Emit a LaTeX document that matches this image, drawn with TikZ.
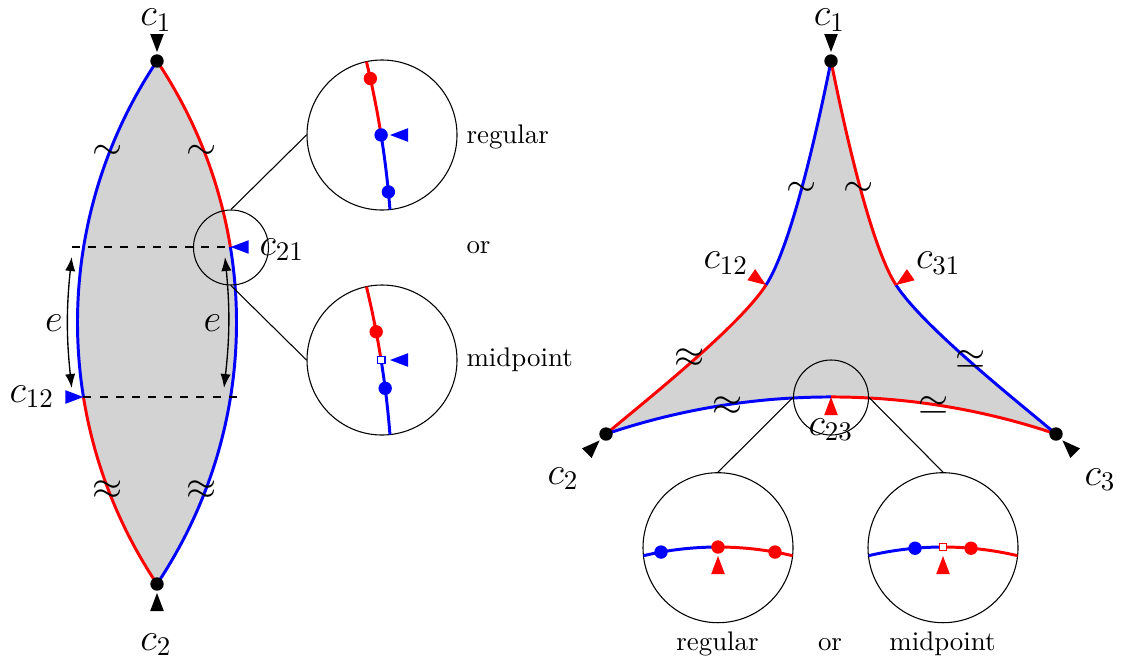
\documentclass[tikz,border=0pt]{standalone}
\usetikzlibrary{arrows.meta,calc}
\definecolor{lensgray}{HTML}{D3D3D3}
\newcommand\drawtri[3]{\fill[#1,shift={(#2)},rotate=#3] (0,0) -- (-18,6.8) -- (-18,-6.8) -- cycle;}
\begin{document}
\begin{tikzpicture}[x=0.3717pt,y=-0.3717pt,
  curve/.style={line width=1.1pt},
  lbl/.style={inner sep=0pt,font=\Large},
  txt/.style={inner sep=0pt},
  lens/.style={draw,circle,inner sep=0pt,line width=0.4pt},
  thinline/.style={line width=0.4pt},
  dashline/.style={dashed,line width=0.65pt},
  arr/.style={line width=0.5pt,{Latex[length=5.2pt,width=3.8pt]}-{Latex[length=5.2pt,width=3.8pt]}},
  sq/.style={draw=#1,fill=white,rectangle,inner sep=0pt,minimum size=2.8pt,line width=0.5pt}
]
\useasboundingbox (0,0) rectangle (1121,662);

%================ LEFT LENS =================
\coordinate (L1) at (157,61);
\coordinate (L2) at (157,584);
\coordinate (L21) at (230.7,247);
\coordinate (L12) at (83.4,397);
\fill[lensgray] (L1) .. controls (51,219.7) and (51,425.3) .. (L2) .. controls (263,425.3) and (263,219.7) .. (L1) -- cycle;
\begin{scope}
  \clip (0,0) rectangle (300,397);
  \draw[curve,blue] (L1) .. controls (51,219.7) and (51,425.3) .. (L2);
\end{scope}
\begin{scope}
  \clip (0,397) rectangle (300,662);
  \draw[curve,red] (L1) .. controls (51,219.7) and (51,425.3) .. (L2);
\end{scope}
\begin{scope}
  \clip (0,0) rectangle (300,247);
  \draw[curve,red] (L1) .. controls (263,219.7) and (263,425.3) .. (L2);
\end{scope}
\begin{scope}
  \clip (0,247) rectangle (300,662);
  \draw[curve,blue] (L1) .. controls (263,219.7) and (263,425.3) .. (L2);
\end{scope}

% dashed lines
\coordinate (DL) at (72,247);
\coordinate (DR) at (241,397);
\draw[dashline] (DL) -- (L21);
\draw[dashline] (L12) -- (DR);

% e arrows
\coordinate (ea1) at (71.7,257);
\coordinate (ea2) at (71.7,388);
\coordinate (eb1) at (225,257);
\coordinate (eb2) at (224,388);
\draw[arr] (ea1) to[bend right=6] (ea2);
\draw[arr] (eb1) to[bend left=6] (eb2);
\node[lbl,anchor=base] (e1) at (54,331) {$e$};
\node[lbl,anchor=base] (e2) at (212.5,331) {$e$};

% tildes
\node[lbl] (t1) at (107.5,152.5) {$\sim$};
\node[lbl] (t2) at (201.7,152.5) {$\sim$};
\node[lbl] (t3) at (107.5,490) {$\approx$};
\node[lbl] (t4) at (201.7,490) {$\approx$};

% dots and markers
\fill (L1) circle[radius=6.7];
\fill (L2) circle[radius=6.7];
\coordinate (m1) at (157,52);
\coordinate (m2) at (157,593);
\drawtri{black}{m1}{-90}
\drawtri{black}{m2}{90}
\drawtri{blue}{L21}{180}
\drawtri{blue}{L12}{0}

\node[lbl,anchor=base] (lc1) at (156,25.5) {$c_1$};
\node[lbl,anchor=base] (lc2) at (156,650) {$c_2$};
\node[lbl,anchor=base west] (lc21) at (259,255) {$c_{21}$};
\node[lbl,anchor=base west] (lc12) at (9,402) {$c_{12}$};

% zoom circles
\node[lens,minimum size=27.88pt] (zs) at (231,247.5) {};
\node[lens,minimum size=55.76pt] (zt) at (382,135) {};
\node[lens,minimum size=55.76pt] (zb) at (382,360) {};
\draw[thinline] (zs.north) -- (zt.west);
\draw[thinline] (zs.south) -- (zb.west);

\begin{scope}
  \clip (382,135) circle[radius=75];
  \draw[curve,red] plot[domain=-16:-9.05,samples=20] ({-561+954*cos(\x)},{285+954*sin(\x)});
  \draw[curve,blue] plot[domain=-9.05:-2,samples=20] ({-561+954*cos(\x)},{285+954*sin(\x)});
\end{scope}
\coordinate (zr1) at ($(-561,285)+(-12.5:954)$);
\coordinate (zb1) at ($(-561,285)+(-9.05:954)$);
\coordinate (zb2) at ($(-561,285)+(-5.6:954)$);
\fill[red] (zr1) circle[radius=6.7];
\fill[blue] (zb1) circle[radius=6.7];
\fill[blue] (zb2) circle[radius=6.7];
\coordinate (zm1) at (390,135);
\drawtri{blue}{zm1}{180}

\begin{scope}
  \clip (382,360) circle[radius=75];
  \draw[curve,red] plot[domain=-16:-9.05,samples=20] ({-561+954*cos(\x)},{510+954*sin(\x)});
  \draw[curve,blue] plot[domain=-9.05:-2,samples=20] ({-561+954*cos(\x)},{510+954*sin(\x)});
\end{scope}
\coordinate (zr3) at ($(-561,510)+(-10.77:954)$);
\coordinate (zq3) at ($(-561,510)+(-9.05:954)$);
\coordinate (zb3) at ($(-561,510)+(-7.33:954)$);
\fill[red] (zr3) circle[radius=6.7];
\fill[blue] (zb3) circle[radius=6.7];
\node[sq=blue] (zsq) at (zq3) {};
\coordinate (zm2) at (390,360);
\drawtri{blue}{zm2}{180}

\node[txt,anchor=base west] (reg1) at (466,143.3) {regular};
\node[txt,anchor=base west] (or1) at (466,253.3) {or};
\node[txt,anchor=base west] (mid1) at (466,366.7) {midpoint};

%================ RIGHT TRIANGLE =================
\coordinate (R1) at (831,61);
\coordinate (R12) at (766,285);
\coordinate (R31) at (896,285);
\coordinate (R2) at (606,434);
\coordinate (R3) at (1056,434);
\coordinate (R23) at (831,397);
\fill[lensgray] (R1) .. controls (821,111) and (793.25,243) .. (R12)
  .. controls (738.75,327) and (644.3,401.8) .. (R2)
  .. controls (752,384.6) and (910,384.6) .. (R3)
  .. controls (1017.7,401.8) and (923.25,327) .. (R31)
  .. controls (868.75,243) and (841,111) .. (R1) -- cycle;
\draw[curve,blue] (R1) .. controls (821,111) and (793.25,243) .. (R12);
\draw[curve,red] (R12) .. controls (738.75,327) and (644.3,401.8) .. (R2);
\begin{scope}
  \clip (500,300) rectangle (831,500);
  \draw[curve,blue] (R2) .. controls (752,384.6) and (910,384.6) .. (R3);
\end{scope}
\begin{scope}
  \clip (831,300) rectangle (1121,500);
  \draw[curve,red] (R2) .. controls (752,384.6) and (910,384.6) .. (R3);
\end{scope}
\draw[curve,blue] (R3) .. controls (1017.7,401.8) and (923.25,327) .. (R31);
\draw[curve,red] (R31) .. controls (868.75,243) and (841,111) .. (R1);

\node[lbl] (s1) at (802,189) {$\sim$};
\node[lbl] (s2) at (858.5,189) {$\sim$};
\node[lbl] (s3) at (690,358) {$\approx$};
\node[lbl] (s4) at (728,406) {$\approx$};
\node[lbl] (s5) at (971,360) {$\simeq$};
\node[lbl] (s6) at (934,406) {$\simeq$};

% zoom circles
\node[lens,minimum size=27.88pt] (ts) at (831,397.5) {};
\node[lens,minimum size=55.76pt] (tl) at (718,547.7) {};
\node[lens,minimum size=55.76pt] (tr) at (943,547.7) {};
\draw[thinline] (ts.west) -- (tl.north);
\draw[thinline] (ts.east) -- (tr.north);

\begin{scope}
  \clip (718,547.7) circle[radius=75];
  \draw[curve,blue] plot[domain=-115:-90,samples=25] ({718+325*cos(\x)},{872+325*sin(\x)});
  \draw[curve,red] plot[domain=-90:-65,samples=25] ({718+325*cos(\x)},{872+325*sin(\x)});
\end{scope}
\coordinate (tb1) at ($(718,872)+(-100.1:325)$);
\coordinate (tr1) at ($(718,872)+(-90:325)$);
\coordinate (tr2) at ($(718,872)+(-79.9:325)$);
\fill[blue] (tb1) circle[radius=6.7];
\fill[red] (tr1) circle[radius=6.7];
\fill[red] (tr2) circle[radius=6.7];
\coordinate (tm1) at (718,556);
\drawtri{red}{tm1}{90}

\begin{scope}
  \clip (943,547.7) circle[radius=75];
  \draw[curve,blue] plot[domain=-115:-90,samples=25] ({943+325*cos(\x)},{872+325*sin(\x)});
  \draw[curve,red] plot[domain=-90:-65,samples=25] ({943+325*cos(\x)},{872+325*sin(\x)});
\end{scope}
\coordinate (tb3) at ($(943,872)+(-94.94:325)$);
\coordinate (tq3) at ($(943,872)+(-90:325)$);
\coordinate (tr3) at ($(943,872)+(-85.06:325)$);
\fill[blue] (tb3) circle[radius=6.7];
\fill[red] (tr3) circle[radius=6.7];
\node[sq=red] (tsq) at (tq3) {};
\coordinate (tm2) at (943,556);
\drawtri{red}{tm2}{90}

% dots and markers
\fill (R1) circle[radius=6.7];
\fill (R2) circle[radius=6.7];
\fill (R3) circle[radius=6.7];
\coordinate (rm1) at (831,52);
\coordinate (rm2) at (599.6,440.4);
\coordinate (rm3) at (1062.4,440.4);
\drawtri{black}{rm1}{-90}
\drawtri{black}{rm2}{45}
\drawtri{black}{rm3}{135}
\drawtri{red}{R12}{-35}
\drawtri{red}{R31}{-145}
\drawtri{red}{R23}{90}

\node[lbl,anchor=base] (rc1) at (829.5,25.5) {$c_1$};
\node[lbl,anchor=base west] (rc12) at (703,268.5) {$c_{12}$};
\node[lbl,anchor=base west] (rc31) at (915.5,268.5) {$c_{31}$};
\node[lbl,anchor=base west] (rc2) at (547,484) {$c_2$};
\node[lbl,anchor=base west] (rc3) at (1084,485) {$c_3$};
\node[lbl,anchor=base west] (rc23) at (808,435) {$c_{23}$};

\node[txt,anchor=base] (reg2) at (717.5,650) {regular};
\node[txt,anchor=base] (or2) at (830,650) {or};
\node[txt,anchor=base] (mid2) at (942.5,650) {midpoint};
\end{tikzpicture}
\end{document}
